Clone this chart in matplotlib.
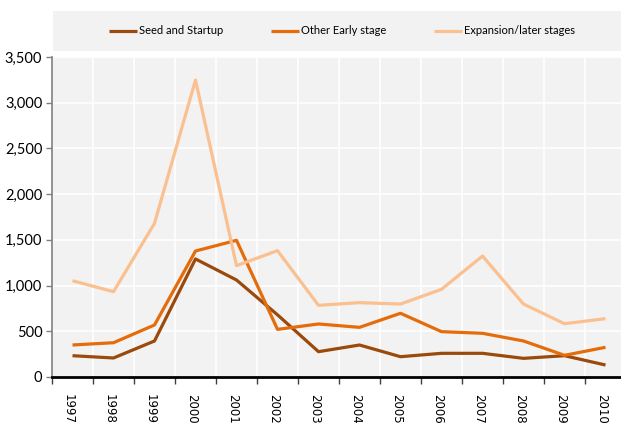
import numpy as np
import matplotlib
matplotlib.use("Agg")
import matplotlib.pyplot as plt
from matplotlib.patches import Rectangle
from matplotlib.ticker import FuncFormatter, MultipleLocator

years = [str(y) for y in range(1997, 2011)]
seed = [233, 208, 394, 1291, 1061, 680, 277, 350, 222, 259, 259, 204, 233, 131]
other_early = [350, 375, 569, 1378, 1495, 521, 580, 543, 697, 496, 478, 394, 237, 325]
expansion = [1053, 933, 1681, 3248, 1218, 1382, 784, 813, 798, 959, 1323, 798, 583, 638]

series_names = ["Seed and Startup", "Other Early stage", "Expansion/later stages"]
colors = ["#9a4a0c", "#e46c0a", "#fac090"]

plt.rcParams['font.family'] = ['Lato', 'DejaVu Sans']

fig = plt.figure(figsize=(6.21, 4.23), dpi=100)
W, H = 621, 423
ax = fig.add_axes([52 / W, 1 - 377 / H, 574 / W, 320 / H])
ax.set_facecolor("#f2f2f2")

x = np.arange(len(years))
for vals, name, c in zip([seed, other_early, expansion], series_names, colors):
    ax.plot(x, vals, color=c, lw=2.3, label=name, solid_capstyle="butt", zorder=3)

ax.set_xlim(-0.5, len(years) - 0.5)
ax.set_ylim(0, 3500)
ax.yaxis.set_major_locator(MultipleLocator(500))
ax.yaxis.set_major_formatter(FuncFormatter(lambda v, p: f"{int(v):,}"))

ax.set_xticks(x - 0.1)
ax.set_xticklabels(years, rotation=270, family="DejaVu Sans", fontsize=8.5)
ax.set_xticks(np.arange(-0.5, len(years), 1), minor=True)
ax.tick_params(axis="x", which="major", length=0, pad=12)
ax.tick_params(axis="x", which="minor", length=5, width=1, color="#404040", direction="out")
ax.tick_params(axis="y", length=4, width=1, color="#808080", labelsize=10.5, pad=3)

ax.grid(True, axis="y", color="white", lw=1.2)
ax.grid(True, axis="x", which="minor", color="white", lw=1.2)
ax.set_axisbelow(True)

for s in ["top", "right"]:
    ax.spines[s].set_visible(False)
ax.spines["left"].set_color("#808080")
ax.spines["left"].set_linewidth(1.2)
ax.spines["bottom"].set_color("black")
ax.spines["bottom"].set_linewidth(2)

# legend band
fig.patches.append(Rectangle((53 / W, 1 - 51 / H), 1 - 53 / W, 40 / H,
                             transform=fig.transFigure, facecolor="#f2f2f2",
                             edgecolor="none", zorder=0))
fig.legend(loc="center", bbox_to_anchor=(342 / W, 1 - 31 / H), ncol=3, frameon=False,
           fontsize=8, handlelength=2.5, columnspacing=4.3, handletextpad=0.2)

fig.savefig("out.png", dpi=100)
